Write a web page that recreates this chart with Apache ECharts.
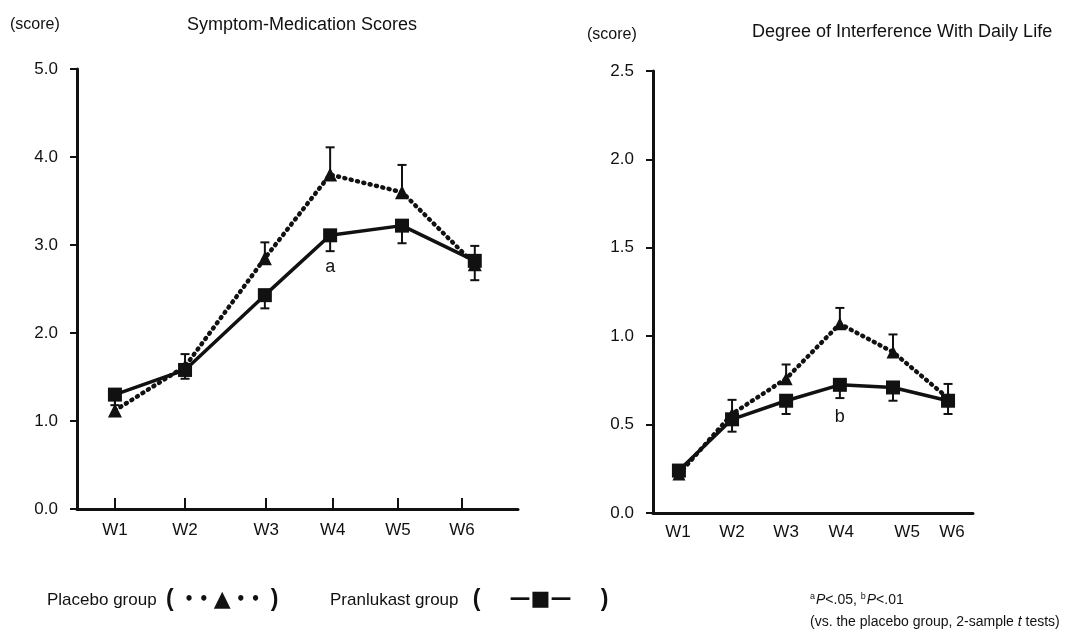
<!doctype html>
<html>
<head>
<meta charset="UTF-8">
<script src="https://cdn.jsdelivr.net/npm/echarts@6/dist/echarts.min.js"></script>
<style>
  html, body { margin: 0; padding: 0; background: #fff; }
  #main { width: 1066px; height: 633px; }
</style>
</head>
<body>
<div id="main"></div>
<script type="text/javascript">
    // week labels and where they sit on the (unevenly spaced) x axis, 0-100
    var weeks = ['W1', 'W2', 'W3', 'W4', 'W5', 'W6'];

    // left: Symptom-Medication Scores
    var leftTickPos = [8.6, 24.5, 42.9, 58.0, 72.8, 87.3];
    var leftPointPos = [8.6, 24.5, 42.6, 57.4, 73.7, 90.2];
    var leftPlacebo = [1.12, 1.62, 2.85, 3.80, 3.60, 2.78];
    var leftPlaceboUpper = [1.25, 1.76, 3.03, 4.11, 3.91, 2.99];
    var leftPranlukast = [1.30, 1.58, 2.43, 3.11, 3.22, 2.82];
    var leftPranlukastLower = [1.18, 1.48, 2.28, 2.93, 3.02, 2.60];
    var leftNotes = ['', '', '', 'a', '', ''];

    // right: Degree of Interference With Daily Life
    var rightLabelPos = [7.8, 24.7, 41.6, 58.8, 79.4, 93.4];
    var rightPointPos = [8.1, 24.7, 41.6, 58.4, 75.0, 92.2];
    var rightPlacebo = [0.22, 0.56, 0.76, 1.07, 0.91, 0.65];
    var rightPlaceboUpper = [null, 0.64, 0.84, 1.16, 1.01, 0.73];
    var rightPranlukast = [0.24, 0.53, 0.635, 0.725, 0.71, 0.635];
    var rightPranlukastLower = [null, 0.46, 0.56, 0.65, 0.635, 0.56];
    var rightNotes = ['', '', '', 'b', '', ''];

    var FONT = "'Liberation Sans', Arial, sans-serif";
    var SYM = "'DejaVu Sans', sans-serif";
    var INK = '#111';

    function pairs(xs, ys) {
        return xs.map(function (x, i) { return [x, ys[i]]; });
    }
    function errData(xs, ys, ends) {
        var out = [];
        xs.forEach(function (x, i) {
            if (ends[i] != null) out.push([x, ys[i], ends[i]]);
        });
        return out;
    }
    function noteData(xs, ys, notes) {
        return xs.map(function (x, i) {
            var item = { value: [x, ys[i]] };
            if (notes[i]) {
                item.label = { show: true, formatter: notes[i], position: 'bottom', distance: 16,
                    fontFamily: FONT, fontSize: 18, color: INK };
            }
            return item;
        });
    }
    function errRender(params, api) {
        var p1 = api.coord([api.value(0), api.value(1)]);
        var p2 = api.coord([api.value(0), api.value(2)]);
        var st = { stroke: INK, lineWidth: 2 };
        return {
            type: 'group',
            children: [
                { type: 'line', shape: { x1: p1[0], y1: p1[1], x2: p2[0], y2: p2[1] }, style: st },
                { type: 'line', shape: { x1: p2[0] - 4.5, y1: p2[1], x2: p2[0] + 4.5, y2: p2[1] }, style: st }
            ]
        };
    }
    function xAxis(idx, labelPos, showTicks, margin) {
        return {
            type: 'value', gridIndex: idx, min: 0, max: 100,
            splitLine: { show: false },
            axisLine: { show: true, lineStyle: { color: INK, width: 3 } },
            axisTick: { show: showTicks, inside: true, length: 11, customValues: labelPos,
                lineStyle: { color: INK, width: 2 } },
            axisLabel: {
                customValues: labelPos, margin: margin,
                fontFamily: FONT, fontSize: 17, color: INK,
                formatter: function (v) { return weeks[labelPos.indexOf(v)] || ''; }
            }
        };
    }
    function yAxis(idx, max, step) {
        return {
            type: 'value', gridIndex: idx, min: 0, max: max, interval: step,
            splitLine: { show: false },
            axisLine: { show: true, lineStyle: { color: INK, width: 3 } },
            axisTick: { show: true, length: 7, lineStyle: { color: INK, width: 2 } },
            axisLabel: { margin: 19, fontFamily: FONT, fontSize: 17, color: INK,
                formatter: function (v) { return v.toFixed(1); } }
        };
    }
    function lineSeries(idx, data, dotted, symbol, size) {
        return {
            type: 'line', xAxisIndex: idx, yAxisIndex: idx, data: data,
            symbol: symbol, symbolSize: size, z: 3,
            itemStyle: { color: INK },
            lineStyle: dotted ? { color: INK, width: 4.5, type: [1, 5.5], cap: 'round' }
                              : { color: INK, width: 3.5 },
            animation: false
        };
    }
    function errSeries(idx, data) {
        return {
            type: 'custom', xAxisIndex: idx, yAxisIndex: idx, data: data,
            renderItem: errRender, z: 2, animation: false
        };
    }

    var myChart = echarts.init(document.getElementById('main'));
    var option = {
        backgroundColor: '#fff',
        animation: false,
        grid: [
            { left: 77, top: 69, width: 441, height: 440 },
            { left: 653, top: 71, width: 320, height: 442 }
        ],
        xAxis: [xAxis(0, leftTickPos, true, 13), xAxis(1, rightLabelPos, false, 11)],
        yAxis: [yAxis(0, 5, 1), yAxis(1, 2.5, 0.5)],
        series: [
            errSeries(0, errData(leftPointPos, leftPlacebo, leftPlaceboUpper)),
            errSeries(0, errData(leftPointPos, leftPranlukast, leftPranlukastLower)),
            lineSeries(0, pairs(leftPointPos, leftPlacebo), true, 'triangle', 14),
            lineSeries(0, noteData(leftPointPos, leftPranlukast, leftNotes), false, 'rect', 14),
            errSeries(1, errData(rightPointPos, rightPlacebo, rightPlaceboUpper)),
            errSeries(1, errData(rightPointPos, rightPranlukast, rightPranlukastLower)),
            lineSeries(1, pairs(rightPointPos, rightPlacebo), true, 'triangle', 13),
            lineSeries(1, noteData(rightPointPos, rightPranlukast, rightNotes), false, 'rect', 14)
        ],
        graphic: [
            { type: 'text', x: 10, y: 25, style: { text: '(score)', font: '16px ' + FONT, fill: INK,
                textVerticalAlign: 'middle' } },
            { type: 'text', x: 302, y: 25, style: { text: 'Symptom-Medication Scores', font: '18px ' + FONT,
                fill: INK, textAlign: 'center', textVerticalAlign: 'middle' } },
            { type: 'text', x: 587, y: 35, style: { text: '(score)', font: '16px ' + FONT, fill: INK,
                textVerticalAlign: 'middle' } },
            { type: 'text', x: 752, y: 32, style: { text: 'Degree of Interference With Daily Life',
                font: '18px ' + FONT, fill: INK, textVerticalAlign: 'middle' } },
            { type: 'text', x: 47, y: 600, style: {
                text: 'Placebo group  {p|(}{d|  • • }{t|▲}{d| • •  }{p|)}', font: '17px ' + FONT, fill: INK,
                textVerticalAlign: 'middle',
                rich: { p: { fontSize: 23, fontWeight: 'bold', fontFamily: FONT },
                        d: { fontSize: 15, fontWeight: 'bold', fontFamily: SYM },
                        t: { fontSize: 22, fontFamily: SYM } } } },
            { type: 'text', x: 330, y: 600, style: {
                text: 'Pranlukast group   {p|(}{s|    —■—    }{p|)}', font: '17px ' + FONT, fill: INK,
                textVerticalAlign: 'middle',
                rich: { p: { fontSize: 23, fontWeight: 'bold', fontFamily: FONT },
                        s: { fontSize: 21, fontWeight: 'bold', fontFamily: SYM } } } },
            { type: 'text', x: 810, y: 600, style: {
                text: '{sup|a}{it|P}<.05, {sup|b}{it|P}<.01', font: '14px ' + FONT, fill: INK,
                textVerticalAlign: 'middle',
                rich: { sup: { fontSize: 9, fontFamily: FONT, verticalAlign: 'top', padding: [0, 1, 7, 0] },
                        it: { fontStyle: 'italic', fontSize: 14, fontFamily: FONT } } } },
            { type: 'text', x: 810, y: 622, style: {
                text: '(vs. the placebo group, 2-sample {it|t} tests)', font: '14px ' + FONT, fill: INK,
                textVerticalAlign: 'middle',
                rich: { it: { fontStyle: 'italic', fontSize: 14, fontFamily: FONT } } } }
        ]
    };
    myChart.setOption(option);
</script>
</body>
</html>
